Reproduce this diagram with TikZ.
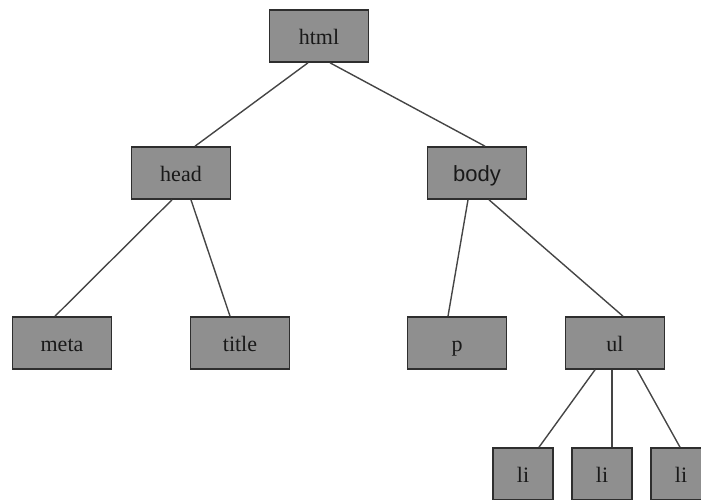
\documentclass[tikz,border=0pt]{standalone}
\usepackage{fontspec}
\setmainfont{Liberation Serif}
\setsansfont{Liberation Sans}
\definecolor{tagGray}{HTML}{8F8F8F}
\definecolor{tagEdge}{HTML}{2E2E2E}
\definecolor{linkGray}{HTML}{454545}
\usepackage{tikz}

\begin{document}
\begin{tikzpicture}[x=1pt, y=-1pt,
		tag/.style={rectangle, draw=tagEdge, line width=1.6pt, fill=tagGray, inner sep=0pt,
			minimum width=99pt, minimum height=52pt, text=black!90,
			text height=19pt, text depth=3pt,
			font=\fontsize{22}{24}\selectfont},
		leaf/.style={tag, minimum width=60pt},
		link/.style={draw=linkGray, line width=1.4pt}]
		\useasboundingbox (0,0) rectangle (701,499);
		% the edges go under the boxes
		 \foreach \x /\y /\alph/\name in {
			319/36/html/html,
		  	181/173/head/head,
		  	477/173/body/{\sffamily body},
		  	62/343/meta/meta,
		  	240/343/title/title,
		  	457/343/p/p,
		  	615/343/ul/ul
		 }{
		 	\node[tag] (\alph) at (\x,\y) {\name};
		 }
		 \foreach \x /\alph in {523/li1, 602/li2, 681/li3}
		 {
		 	\node[leaf] (\alph) at (\x,474) {li};
		 }
		 \foreach \a /\sa /\b /\sb in {
			html/-11/head/14,
			html/11/body/8,
			head/-9/meta/-7,
			head/10/title/-10,
			body/-9/p/-9,
			body/12/ul/8,
			ul/-20/li1/16,
			ul/-3/li2/10,
			ul/22/li3/-1
		 }
		 {\draw[link] ([xshift=\sa pt]\a.south) -- ([xshift=\sb pt]\b.north);}
	\end{tikzpicture}
\end{document}
